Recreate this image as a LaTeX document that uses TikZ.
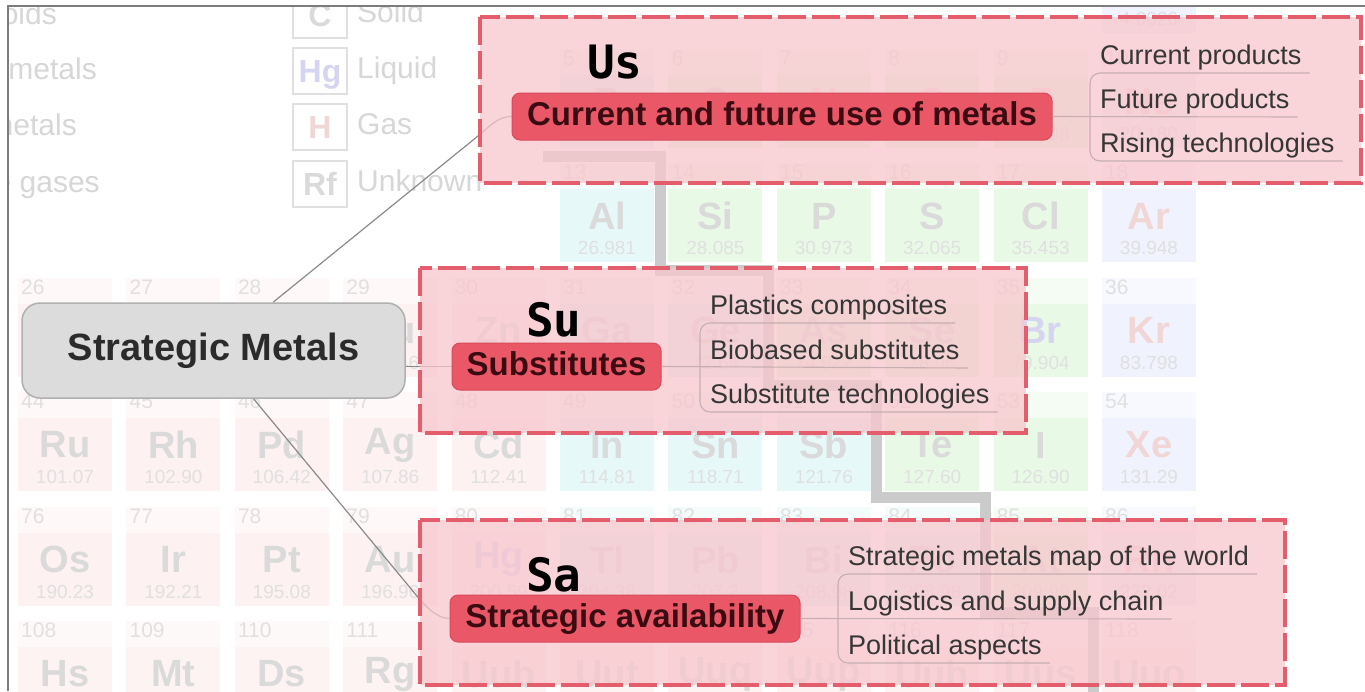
\documentclass[tikz,border=0pt]{standalone}
\usepackage{fontspec}
\setmainfont{Liberation Sans}
\newfontfamily\labelmono{DejaVu Sans Mono}
\usetikzlibrary{calc}

\pgfdeclarelayer{back}
\pgfdeclarelayer{links}
\pgfsetlayers{back,links,main}

% faded periodic table
\definecolor{framegray}{HTML}{7C7C7C}
\definecolor{tmfill}{HTML}{FDF1F1}
\definecolor{pmfill}{HTML}{E6F9F8}
\definecolor{nmfill}{HTML}{E8FAE5}
\definecolor{ngfill}{HTML}{F0F2FD}
\definecolor{shfill}{HTML}{FDF3F3}
\definecolor{symgray}{HTML}{DADADA}
\definecolor{numgray}{HTML}{E0E0E0}
\definecolor{massgray}{HTML}{E0E0E0}
\definecolor{gastext}{HTML}{F1D6D6}
\definecolor{liqtext}{HTML}{D5D5F1}
\definecolor{leggray}{HTML}{D7D7D7}
\definecolor{legbox}{HTML}{E0E0E0}
\definecolor{stair}{HTML}{CBCBCB}
% mind map
\definecolor{zonefill}{HTML}{F8C6CC}
\definecolor{zonedash}{HTML}{E35D6C}
\definecolor{topicfill}{HTML}{EA5868}
\definecolor{topicdraw}{HTML}{D84A5C}
\definecolor{topictext}{HTML}{3A0C12}
\definecolor{rootfill}{HTML}{DCDCDC}
\definecolor{rootdraw}{HTML}{B0B0B0}
\definecolor{roottext}{HTML}{2B2B2B}
\definecolor{linkgray}{HTML}{8A8A8A}
\definecolor{itemtext}{HTML}{363636}
\definecolor{itemline}{HTML}{C6AEB2}

\tikzset{
  tilenum/.style={anchor=north west, inner sep=0pt, text=numgray, font=\fontsize{21}{21}\selectfont},
  tilesym/.style={inner sep=0pt, font=\fontsize{38}{38}\selectfont\bfseries},
  tilemass/.style={inner sep=0pt, text=massgray, font=\fontsize{19}{19}\selectfont},
  legtext/.style={inner sep=0pt, text=leggray, text height=21.6pt, text depth=6pt, font=\fontsize{30}{30}\selectfont},
  legsym/.style={draw=legbox, line width=1.5pt, minimum width=54pt, minimum height=46pt, inner sep=0pt, text height=23pt, text depth=0pt, font=\fontsize{32}{32}\selectfont\bfseries},
  stairline/.style={draw=stair, line width=11pt},
  zone/.style={draw=zonedash, line width=3.5pt, dash pattern=on 28pt off 6pt, fill=zonefill, fill opacity=0.75},
  rootnode/.style={draw=rootdraw, line width=1.5pt, fill=rootfill, rounded corners=18pt, minimum width=383pt, minimum height=95pt, inner sep=0pt, text=roottext, text height=27.4pt, text depth=7.6pt, font=\fontsize{38}{40}\selectfont\bfseries},
  topic/.style={fill=topicfill, draw=topicdraw, line width=1pt, rounded corners=8pt, minimum height=47pt, inner sep=0pt, text=topictext, text height=23.8pt, text depth=6.6pt, font=\fontsize{33}{35}\selectfont\bfseries},
  item/.style={anchor=base west, inner sep=0pt, text=itemtext, font=\fontsize{27}{29}\selectfont},
  branch/.style={draw=itemline, line width=1.1pt, rounded corners=10pt},
  link/.style={draw=linkgray, line width=1.2pt},
  tag/.style={anchor=base west, inner sep=0pt, text=black, font=\labelmono\bfseries\fontsize{46}{48}\selectfont},
}

% one element tile: group, period, number, symbol, mass, fill, symbol colour
\newcommand\ptile[7]{%
  \pgfmathsetmacro\tilex{18+(#1-8)*108.4}%
  \pgfmathsetmacro\tiley{163+(#2-3)*114.5}%
  \fill[#6] (\tilex,\tiley) rectangle ++(94,99);
  \fill[white,opacity=0.55] (\tilex,\tiley) rectangle ++(94,26);
  \node[tilenum] (z#3) at (\tilex+3,\tiley+2) {#3};
  \node[tilesym,text=#7] (e#3) at (\tilex+47,\tiley+53) {#4};
  \node[tilemass] (w#3) at (\tilex+47,\tiley+85) {#5};
}

\begin{document}
\begin{tikzpicture}[x=1pt,y=-1pt]
\useasboundingbox (0,0) rectangle (1365,691);

\begin{pgfonlayer}{back}
  \fill[white] (0,0) rectangle (1365,691);
  \begin{scope}
    \clip (8,6) rectangle (1365,691);
    \foreach \g/\p/\z/\s/\m/\c/\t in {
      18/1/2/He/4.0026/ngfill/gastext,
      13/2/5/B/10.811/pmfill/symgray,
      14/2/6/C/12.011/nmfill/symgray,
      15/2/7/N/14.007/nmfill/gastext,
      16/2/8/O/15.999/nmfill/gastext,
      17/2/9/F/18.998/nmfill/gastext,
      18/2/10/Ne/20.180/ngfill/gastext,
      13/3/13/Al/26.981/pmfill/symgray,
      14/3/14/Si/28.085/nmfill/symgray,
      15/3/15/P/30.973/nmfill/symgray,
      16/3/16/S/32.065/nmfill/symgray,
      17/3/17/Cl/35.453/nmfill/symgray,
      18/3/18/Ar/39.948/ngfill/gastext,
      8/4/26/Fe/55.845/tmfill/symgray,
      9/4/27/Co/58.933/tmfill/symgray,
      10/4/28/Ni/58.693/tmfill/symgray,
      11/4/29/Cu/63.546/tmfill/symgray,
      12/4/30/Zn/65.38/tmfill/symgray,
      13/4/31/Ga/69.723/pmfill/symgray,
      14/4/32/Ge/72.64/pmfill/symgray,
      15/4/33/As/74.922/nmfill/symgray,
      16/4/34/Se/78.96/nmfill/symgray,
      17/4/35/Br/79.904/nmfill/liqtext,
      18/4/36/Kr/83.798/ngfill/gastext,
      8/5/44/Ru/101.07/tmfill/symgray,
      9/5/45/Rh/102.90/tmfill/symgray,
      10/5/46/Pd/106.42/tmfill/symgray,
      11/5/47/Ag/107.86/tmfill/symgray,
      12/5/48/Cd/112.41/tmfill/symgray,
      13/5/49/In/114.81/pmfill/symgray,
      14/5/50/Sn/118.71/pmfill/symgray,
      15/5/51/Sb/121.76/pmfill/symgray,
      16/5/52/Te/127.60/nmfill/symgray,
      17/5/53/I/126.90/nmfill/symgray,
      18/5/54/Xe/131.29/ngfill/gastext,
      8/6/76/Os/190.23/tmfill/symgray,
      9/6/77/Ir/192.21/tmfill/symgray,
      10/6/78/Pt/195.08/tmfill/symgray,
      11/6/79/Au/196.96/tmfill/symgray,
      12/6/80/Hg/200.59/tmfill/liqtext,
      13/6/81/Tl/204.38/pmfill/symgray,
      14/6/82/Pb/207.2/pmfill/symgray,
      15/6/83/Bi/208.98/pmfill/symgray,
      16/6/84/Po/208.98/pmfill/symgray,
      17/6/85/At/209.99/nmfill/symgray,
      18/6/86/Rn/222.02/ngfill/gastext,
      8/7/108/Hs/(277)/shfill/symgray,
      9/7/109/Mt/(268)/shfill/symgray,
      10/7/110/Ds/(281)/shfill/symgray,
      11/7/111/Rg/(272)/shfill/symgray,
      12/7/112/Uub/(285)/shfill/symgray,
      13/7/113/Uut/(284)/shfill/symgray,
      14/7/114/Uuq/(289)/shfill/symgray,
      15/7/115/Uup/(288)/shfill/symgray,
      16/7/116/Uuh/(293)/shfill/symgray,
      17/7/117/Uus/(294)/shfill/symgray,
      18/7/118/Uuo/(294)/shfill/symgray}
      {\ptile{\g}{\p}{\z}{\s}{\m}{\c}{\t}}

    % metal / non-metal staircase
    \draw[stairline] (543,156) -| (660,270) -| (768,385) -| (876,497) -| (985,612) -| (1093,700);

    % legend
    \node[legtext, anchor=east] (lg1) at (57,17) {Metalloids};
    \node[legtext, anchor=east] (lg2) at (97,72) {Nonmetals};
    \node[legtext, anchor=east] (lg3) at (77,128) {Other metals};
    \node[legtext, anchor=east] (lg4) at (100,185) {Noble gases};
    \foreach \yy/\sy/\col/\lab [count=\i] in {15/C/symgray/Solid, 71/Hg/liqtext/Liquid, 127/H/gastext/Gas, 184/Rf/symgray/Unknown}{
      \node[legsym, text=\col] (lb\i) at (320,\yy) {\sy};
      \node[legtext, anchor=west] (ll\i) at (357,\yy) {\lab};
    }
  \end{scope}
  \draw[framegray, line width=2pt] (8,691) -- (8,6) -- (1365,6);
\end{pgfonlayer}

% topic zones
\draw[zone] (480,17) rectangle (1361,183);
\draw[zone] (420,268) rectangle (1026,433);
\draw[zone] (420,520) rectangle (1285,685);

% central topic
\node[rootnode] (root) at (213.5,350.5) {Strategic Metals};

% main topics
\node[topic, minimum width=540pt] (us) at (782,116.5) {Current and future use of metals};
\node[topic, minimum width=209pt] (su) at (556.5,366.5) {Substitutes};
\node[topic, minimum width=350pt] (sa) at (625,618.5) {Strategic availability};

% short tags
\node[tag] (tagus) at (587,78) {Us};
\node[tag] (tagsu) at (526,336) {Su};
\node[tag] (tagsa) at (526,591) {Sa};

% subtopics
\node[item] (us1) at (1100,64) {Current products};
\node[item] (us2) at (1100,108) {Future products};
\node[item] (us3) at (1100,152) {Rising technologies};
\node[item] (su1) at (710,314) {Plastics composites};
\node[item] (su2) at (710,359) {Biobased substitutes};
\node[item] (su3) at (710,403) {Substitute technologies};
\node[item] (sa1) at (848,565) {Strategic metals map of the world};
\node[item] (sa2) at (848,610) {Logistics and supply chain};
\node[item] (sa3) at (848,654) {Political aspects};

\coordinate (usfork) at (1090,0);
\coordinate (sufork) at (700,0);
\coordinate (safork) at (838,0);
\foreach \t in {us,su,sa}{
  \draw[branch] ($(\t1.base east)+(8,9)$) -- ($(\t fork |- \t1.base)+(0,9)$)
    -- ($(\t fork |- \t3.base)+(0,9)$) -- ($(\t3.base east)+(8,9)$);
  \draw[branch] (\t.east) -- ($(\t2.base east)+(8,9)$);
}

% connectors from the central topic
\begin{pgfonlayer}{links}
  \coordinate (rootus) at ($(root.north west)!0.655!(root.north east)$);
  \coordinate (rootsa) at ($(root.south west)!0.604!(root.south east)$);
  \coordinate (usbend) at (478,136);
  \coordinate (sabend) at (412,590);
  \draw[link] (rootus) -- (usbend) .. controls (490,126) and (498,116.5) .. (us.west);
  \draw[link] (root.east |- su.west) -- (su.west);
  \draw[link] (rootsa) -- (sabend) .. controls (424,605) and (436,618.5) .. (sa.west);
\end{pgfonlayer}
\end{tikzpicture}
\end{document}
